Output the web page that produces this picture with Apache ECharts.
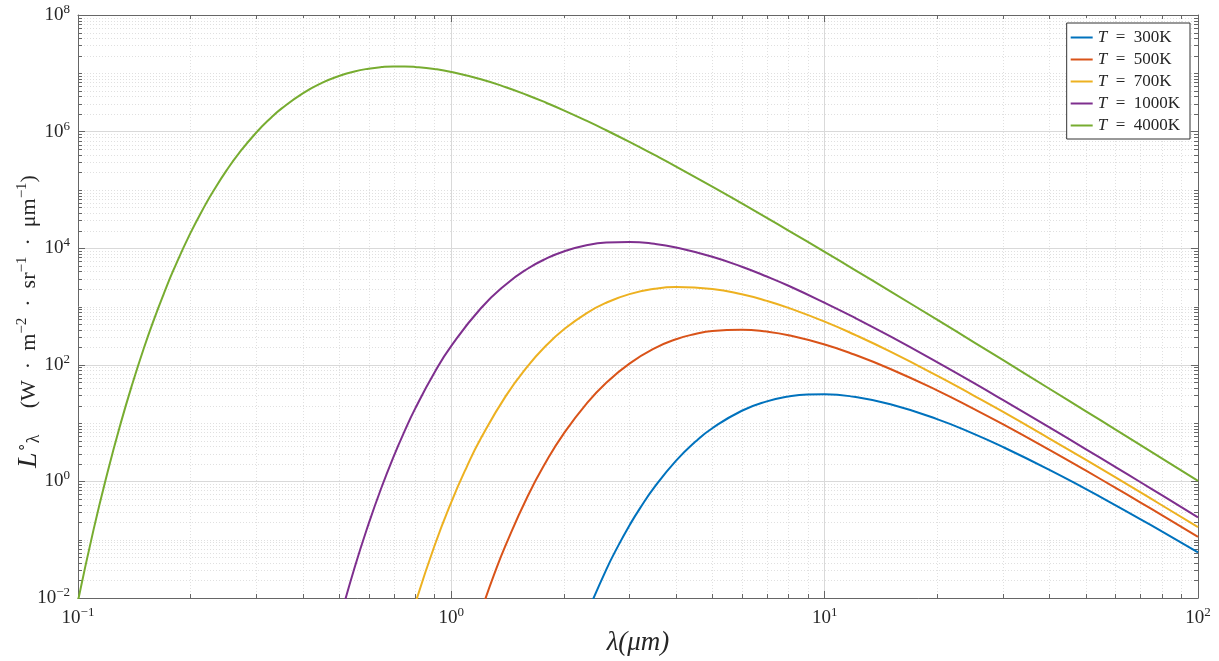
<!DOCTYPE html>
<html><head><meta charset="utf-8">
<script src="https://cdn.jsdelivr.net/npm/echarts@6/dist/echarts.min.js"></script>
<style>html,body{margin:0;padding:0;background:#fff}#c{width:1219px;height:661px}</style>
</head><body><div id="c"></div>
<script>
// Series names and colours
const seriesNames = ['T = 300K', 'T = 500K', 'T = 700K', 'T = 1000K', 'T = 4000K'];
const seriesColors = ['#0072BD', '#D95319', '#EDB120', '#7E2F8E', '#77AC30'];

// Wavelength (um) and spectral radiance values
const wl300 = [2.3, 2.6, 2.8, 3.0, 3.2, 3.5, 4, 4.5, 5, 6, 7, 8, 9, 10, 12, 15, 20, 25, 30, 40, 50, 60, 70, 80, 100];
const L300  = [0.0051, 0.0307, 0.0791, 0.176, 0.345, 0.797, 2.27, 4.77, 8.17, 16.3, 23.6, 28.5, 30.9, 31.2, 28.2, 21.0, 11.7, 6.60, 3.90, 1.58, 0.744, 0.393, 0.226, 0.139, 0.0608];

const wl500 = [1.2, 1.3, 1.4, 1.6, 1.8, 2.0, 2.3, 2.6, 3.0, 3.5, 4, 4.5, 5, 6, 7, 8, 10, 12, 15, 20, 25, 30, 40, 50, 60, 70, 80, 100];
const L500  = [0.0058, 0.0246, 0.0824, 0.552, 2.26, 6.59, 21.4, 49.2, 105, 192, 275, 337, 380, 401, 371, 322, 223, 150, 84.8, 36.4, 17.7, 9.57, 3.47, 1.54, 0.782, 0.438, 0.264, 0.112];

const wl700 = [0.8, 0.9, 1.0, 1.1, 1.2, 1.4, 1.6, 1.8, 2.0, 2.3, 2.6, 3.0, 3.5, 4, 5, 6, 7, 8, 10, 12, 15, 20, 25, 30, 40, 50, 60, 70, 80, 100];
const L700  = [0.0079, 0.0765, 0.443, 1.78, 5.48, 29.3, 94.0, 218, 402, 765, 1160, 1630, 2010, 2160, 2000, 1620, 1250, 947, 550, 331, 168, 65.2, 30.0, 15.7, 5.44, 2.36, 1.18, 0.652, 0.390, 0.164];

const wl1000 = [0.5, 0.55, 0.6, 0.65, 0.7, 0.75, 0.8, 0.9, 1.0, 1.2, 1.4, 1.6, 1.8, 2.0, 2.3, 2.6, 3.0, 3.5, 4, 5, 6, 7, 8, 10, 12, 15, 20, 25, 30, 40, 50, 60, 70, 80, 100];
const L1000  = [0.0038, 0.0324, 0.185, 0.786, 2.64, 7.35, 17.7, 72.3, 211, 933, 2390, 4440, 6690, 8790, 11200, 12500, 12800, 11900, 10300, 7140, 4810, 3270, 2270, 1160, 649, 306, 111, 49.3, 25.0, 8.44, 3.59, 1.78, 0.976, 0.580, 0.242];

const wl4000 = [0.1, 0.11, 0.12, 0.13, 0.14, 0.15, 0.16, 0.17, 0.18, 0.2, 0.22, 0.23, 0.25, 0.27, 0.3, 0.33, 0.35, 0.4, 0.45, 0.5, 0.55, 0.6, 0.65, 0.7, 0.75, 0.8, 0.9, 1.0, 1.2, 1.4, 1.6, 1.8, 2.0, 2.3, 2.6, 3.0, 3.5, 4, 5, 6, 7, 8, 10, 12, 15, 20, 25, 30, 40, 50, 60, 70, 80, 100];
const L4000  = [0.0089, 0.146, 1.44, 9.70, 48.3, 190, 615, 1700, 4150, 18100, 57600, 93900, 216000, 427000, 956000, 1765000, 2450000, 4540000, 6850000, 9000000, 10760000, 12000000, 12790000, 13140000, 13140000, 12880000, 11860000, 10540000, 7900000, 5770000, 4210000, 3100000, 2320000, 1540000, 1054000, 665000, 397000, 251000, 113700, 58600, 33100, 20100, 8640, 4300, 1820, 594, 248, 121, 38.8, 16.1, 7.79, 4.22, 2.48, 1.02];

const wlLists = [wl300, wl500, wl700, wl1000, wl4000];
const LLists = [L300, L500, L700, L1000, L4000];

// Axis ranges (decades)
const xMinExp = -1, xMaxExp = 2;
const yMinExp = -2, yMaxExp = 8;

// Minor tick positions (log axis, k * 10^d)
const xMinor = [];
for (let d = xMinExp; d < xMaxExp; d++) for (let k = 2; k <= 9; k++) xMinor.push(k * Math.pow(10, d));
const yMinor = [];
for (let d = yMinExp; d < yMaxExp; d++) for (let k = 1; k <= 9; k++) {
  if (k === 1 && d % 2 === 0) continue;
  yMinor.push(k * Math.pow(10, d));
}

const FONT = 'Liberation Serif';
const TXT = '#262626';
const AXC = '#666';

function powLabel(v) {
  const e = Math.round(Math.log10(v));
  return '{b|10}{e|' + (e < 0 ? '\u2212' + (-e) : e) + '}';
}
const tickRich = {
  b: { fontFamily: FONT, fontSize: 19, lineHeight: 24, color: TXT },
  e: { fontFamily: FONT, fontSize: 13, lineHeight: 14, verticalAlign: 'top', color: TXT }
};

const chart = echarts.init(document.getElementById('c'), null, { renderer: 'canvas' });

const lineSeries = seriesNames.map((n, i) => ({
  name: n,
  type: 'line',
  data: wlLists[i].map((w, j) => [w, LLists[i][j]]),
  showSymbol: false,
  symbol: 'none',
  smooth: 0.5,
  clip: true,
  lineStyle: { width: 2, color: seriesColors[i] },
  itemStyle: { color: seriesColors[i] },
  z: 3
}));

const minorData = xMinor.map(v => [v, 1, 0]).concat(yMinor.map(v => [1, v, 1]));

const minorSeries = {
  type: 'custom',
  name: 'minor',
  silent: true,
  z: 1,
  xAxisIndex: 0,
  yAxisIndex: 0,
  encode: { x: 0, y: 1 },
  data: minorData,
  renderItem: function (params, api) {
    const kind = api.value(2);
    const cs = params.coordSys;
    const x0 = cs.x, y0 = cs.y, x1 = cs.x + cs.width, y1 = cs.y + cs.height;
    const gridStyle = { stroke: '#e0e0e0', lineWidth: 1, lineDash: [1, 2] };
    const tickStyle = { stroke: AXC, lineWidth: 1 };
    if (kind === 0) {
      const px = Math.round(api.coord([api.value(0), 1])[0]) + 0.5;
      return { type: 'group', children: [
        { type: 'line', shape: { x1: px, y1: y0, x2: px, y2: y1 }, style: gridStyle },
        { type: 'line', shape: { x1: px, y1: y1, x2: px, y2: y1 - 4 }, style: tickStyle },
        { type: 'line', shape: { x1: px, y1: y0, x2: px, y2: y0 + 4 }, style: tickStyle }
      ]};
    } else {
      const py = Math.round(api.coord([1, api.value(1)])[1]) + 0.5;
      return { type: 'group', children: [
        { type: 'line', shape: { x1: x0, y1: py, x2: x1, y2: py }, style: gridStyle },
        { type: 'line', shape: { x1: x0, y1: py, x2: x0 + 4, y2: py }, style: tickStyle },
        { type: 'line', shape: { x1: x1, y1: py, x2: x1 - 4, y2: py }, style: tickStyle }
      ]};
    }
  }
};

function logAxis(pos, min, max, interval, showLabel, extra) {
  return Object.assign({
    type: 'log',
    logBase: 10,
    position: pos,
    min: min,
    max: max,
    interval: interval,
    axisLine: { show: true, onZero: false, lineStyle: { color: AXC, width: 1 } },
    axisTick: { show: true, inside: true, length: 7, lineStyle: { color: AXC } },
    splitLine: { show: showLabel, lineStyle: { color: '#d9d9d9', width: 1 } },
    minorTick: { show: false },
    minorSplitLine: { show: false },
    axisLabel: showLabel ? {
      show: true, formatter: powLabel, rich: tickRich, color: TXT, margin: 8,
      showMinLabel: true, showMaxLabel: true, hideOverlap: false
    } : { show: false }
  }, extra || {});
}

const option = {
  animation: false,
  backgroundColor: '#ffffff',
  grid: { left: 78, right: 21, top: 15, bottom: 63, containLabel: false, outerBoundsMode: 'none' },
  legend: {
    data: seriesNames,
    orient: 'vertical',
    right: 29,
    top: 23,
    backgroundColor: '#ffffff',
    borderColor: '#333',
    borderWidth: 1,
    borderRadius: 0,
    padding: [6, 10, 5, 4],
    itemGap: 5,
    itemWidth: 22,
    itemHeight: 2,
    icon: 'rect',
    textStyle: { fontFamily: FONT, fontSize: 17, color: TXT, lineHeight: 16,
      rich: { i: { fontFamily: FONT, fontStyle: 'italic', fontSize: 17, color: TXT } } },
    formatter: function (n) { return '{i|T}\u2002=\u2002' + n.split('= ')[1]; },
    selectedMode: false,
    z: 10
  },
  xAxis: [
    logAxis('bottom', 0.1, 100, 1, true, {
      name: '\u03bb(\u03bcm)',
      nameLocation: 'middle',
      nameGap: 31,
      nameMoveOverlap: false,
      nameTextStyle: { fontFamily: FONT, fontStyle: 'italic', fontSize: 27, color: TXT }
    }),
    logAxis('top', 0.1, 100, 1, false)
  ],
  yAxis: [
    logAxis('left', 0.01, 1e8, 2, true, {
      axisLabel: { show: true, formatter: powLabel, rich: tickRich, color: TXT, margin: 8,
        showMinLabel: true, showMaxLabel: true },
      name: '{it|L}{sup|\u2218}{sub|\u03bb}\u2003\u2009(W\u2002\u00b7\u2002m{sup|\u22122}\u2002\u00b7\u2002sr{sup|\u22121}\u2002\u00b7\u2002\u03bcm{sup|\u22121})',
      nameLocation: 'middle',
      nameGap: 35,
      nameRotate: 90,
      nameMoveOverlap: false,
      nameTextStyle: { fontFamily: FONT, fontSize: 22, color: TXT, lineHeight: 28,
        padding: [0, 30, 0, 0],
        rich: {
          it: { fontFamily: FONT, fontStyle: 'italic', fontSize: 28, color: TXT, lineHeight: 28 },
          sup: { fontFamily: FONT, fontSize: 15, color: TXT, lineHeight: 14, verticalAlign: 'top' },
          sub: { fontFamily: FONT, fontSize: 18, color: TXT, lineHeight: 14, verticalAlign: 'bottom' }
        } }
    }),
    logAxis('right', 0.01, 1e8, 2, false)
  ],
  series: [minorSeries].concat(lineSeries)
};

chart.setOption(option);
</script></body></html>
